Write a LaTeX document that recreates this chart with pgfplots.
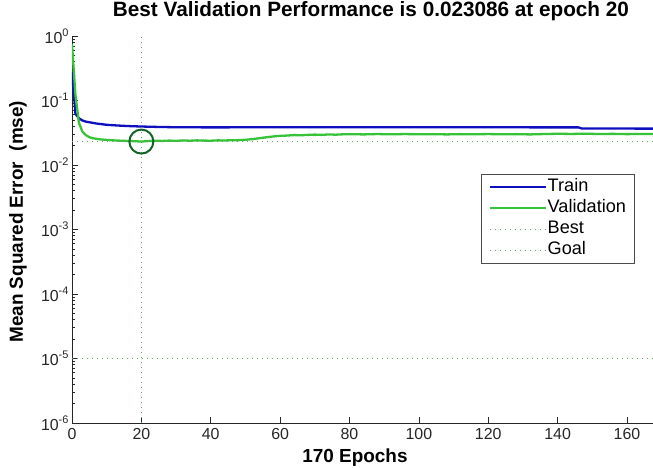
\documentclass[border=0pt]{standalone}
\usepackage{fontspec}
\setmainfont{Liberation Sans}
\usepackage{pgfplots}
\pgfplotsset{compat=1.18}
\definecolor{trainblue}{RGB}{15,15,190}
\definecolor{valgreen}{RGB}{55,195,55}
\definecolor{bestgreen}{RGB}{100,160,100}
\definecolor{circgreen}{RGB}{20,100,40}
\newcommand{\pw}[1]{10\raisebox{0.42em}{\fontsize{11}{11}\selectfont #1}}
\begin{document}
\begin{tikzpicture}
\useasboundingbox (-72bp,-45bp) rectangle (581bp,423bp);
\begin{axis}[
  scale only axis, width=581bp, height=387bp,
  at={(0,0)}, anchor=south west,
  xmin=0, xmax=167.5, ymode=log, ymin=1e-6, ymax=1,
  axis lines=left, axis line style={-, line width=0.8bp, black!85},
  tick align=inside, major tick length=6bp, minor tick length=3bp,
  tick style={black!85, line width=0.7bp},
  /pgf/number format/assume math mode=true,
  xtick={0,20,...,160},
  ytick={1e-6,1e-5,1e-4,1e-3,1e-2,1e-1,1},
  yticklabels={\pw{-6},\pw{-5},\pw{-4},\pw{-3},\pw{-2},\pw{-1},\pw{0}},
  minor ytick={2e-6,3e-6,4e-6,5e-6,6e-6,7e-6,8e-6,9e-6,
               2e-5,3e-5,4e-5,5e-5,6e-5,7e-5,8e-5,9e-5,
               2e-4,3e-4,4e-4,5e-4,6e-4,7e-4,8e-4,9e-4,
               2e-3,3e-3,4e-3,5e-3,6e-3,7e-3,8e-3,9e-3,
               2e-2,3e-2,4e-2,5e-2,6e-2,7e-2,8e-2,9e-2,
               2e-1,3e-1,4e-1,5e-1,6e-1,7e-1,8e-1,9e-1},
  ticklabel style={font=\fontsize{16}{18}\selectfont, text=black!85},
  xticklabel style={yshift=-1.5bp},
  title={Best Validation Performance is 0.023086 at epoch 20},
  title style={at={(axis description cs:0.5146,1)}, anchor=base, yshift=14bp,
    font=\bfseries\fontsize{20.8}{24}\selectfont},
  xlabel={170 Epochs},
  xlabel style={at={(axis description cs:0.487,0)}, anchor=base, yshift=-39bp,
    font=\bfseries\fontsize{19}{22}\selectfont},
  ylabel={Mean Squared Error\ \ (mse)},
  ylabel style={at={(axis description cs:-0.093,0.52)}, anchor=center,
    font=\bfseries\fontsize{19}{22}\selectfont},
  legend cell align=left,
  legend image code/.code={\draw[#1] (0bp,0bp) -- (56bp,0bp);},
  legend style={at={(axis description cs:0.7040,0.6434)}, anchor=north west,
    draw=black!70, line width=0.8bp, inner xsep=7bp, inner ysep=3bp,
    font=\fontsize{18.2}{21}\selectfont, row sep=1.5bp,
    nodes={inner sep=1bp, text height=13.5bp, text depth=4bp}},
]
% Train
\addplot[trainblue, line width=2.3bp, line join=round] coordinates {
(0,0.28)(1,0.062)(2,0.053)(3,0.049)(4,0.047)(5,0.046)(7,0.044)(10,0.042)
(13,0.041)(16,0.0402)(20,0.0395)(25,0.0389)(30,0.0385)(40,0.0383)(50,0.0384)
(64,0.0386)(80,0.0385)(100,0.0384)(120,0.0384)(146,0.0383)(147,0.0368)
(160,0.0367)(170,0.0366)};
\addlegendentry{Train}
% Validation
\addplot[valgreen, line width=2.3bp, line join=round] coordinates {
(0,0.75)(1,0.12)(2,0.045)(3,0.033)(4,0.029)(5,0.027)(6,0.026)(8,0.025)
(10,0.0245)(12,0.0241)(14,0.0238)(16,0.0236)(18,0.0234)(20,0.023086)
(22,0.0235)(24,0.0238)(26,0.0236)(28,0.0239)(30,0.0237)(32,0.024)
(34,0.0238)(36,0.0241)(38,0.0239)(40,0.0238)(42,0.0241)(44,0.024)
(46,0.0242)(48,0.0243)(50,0.0246)(52,0.0252)(54,0.026)(56,0.0269)
(58,0.0277)(60,0.0283)(62,0.0286)(64,0.0291)(66,0.0289)(68,0.0293)
(70,0.0296)(72,0.0293)(74,0.0298)(76,0.0295)(78,0.0299)(80,0.0301)
(84,0.0298)(88,0.0302)(92,0.0299)(96,0.0302)(100,0.0299)(104,0.0301)
(108,0.0298)(112,0.0301)(116,0.0299)(120,0.0302)(124,0.0299)(128,0.0301)
(132,0.0298)(136,0.0302)(140,0.0305)(144,0.0303)(148,0.0306)(152,0.0302)
(156,0.0304)(160,0.0301)(164,0.0303)(168,0.0302)(170,0.0303)};
\addlegendentry{Validation}
% Best
\addplot[bestgreen, line width=1.3bp, dash pattern=on 1.3bp off 3.7bp] coordinates {
(0,0.023086)(170,0.023086)};
\addlegendentry{Best}
% Goal
\addplot[bestgreen, line width=1.3bp, dash pattern=on 1.3bp off 3.7bp] coordinates {
(0,1e-5)(170,1e-5)};
\addlegendentry{Goal}
% best epoch vertical line and circle
\addplot[bestgreen, line width=1.3bp, dash pattern=on 1.3bp off 3.7bp, forget plot] coordinates {
(20,1e-6)(20,1)};
\addplot[circgreen, only marks, mark=o, mark size=12bp, mark options={line width=2bp}, forget plot] coordinates {
(20,0.023086)};
\end{axis}
\end{tikzpicture}
\end{document}
